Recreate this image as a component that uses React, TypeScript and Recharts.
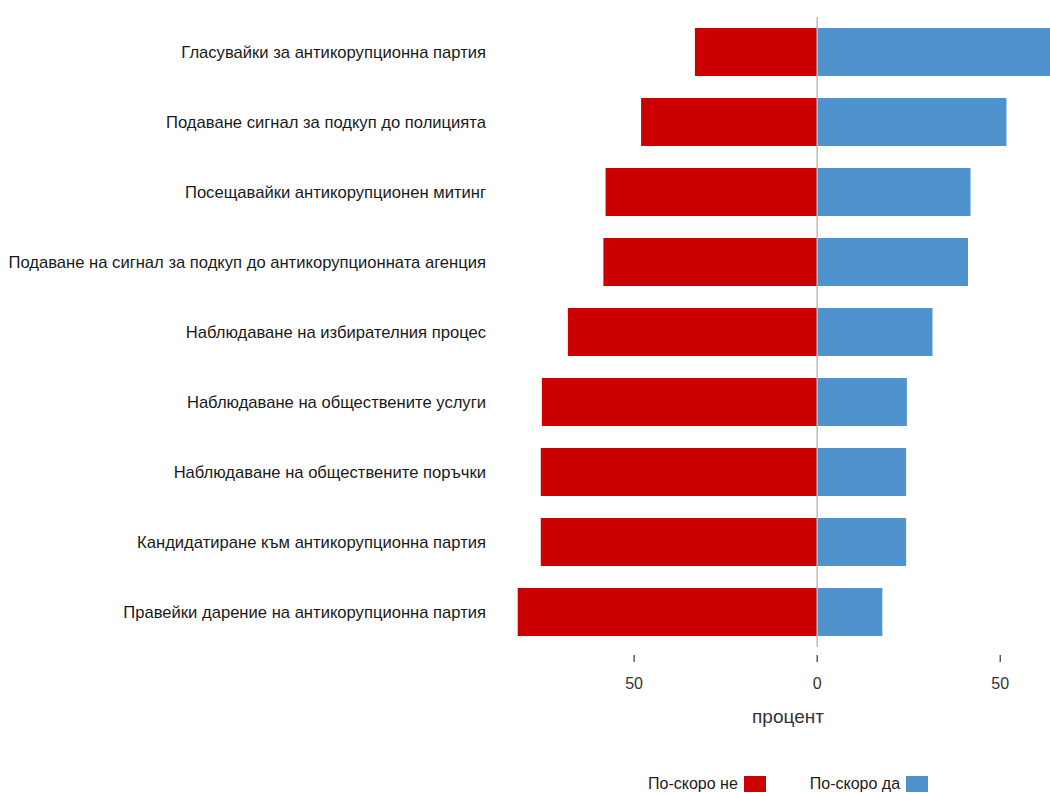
import { BarChart, Bar, XAxis, YAxis, ReferenceLine, Label } from "recharts";

const categories = [
  "Гласувайки за антикорупционна партия",
  "Подаване сигнал за подкуп до полицията",
  "Посещавайки антикорупционен митинг",
  "Подаване на сигнал за подкуп до антикорупционната агенция",
  "Наблюдаване на избирателния процес",
  "Наблюдаване на обществените услуги",
  "Наблюдаване на обществените поръчки",
  "Кандидатиране към антикорупционна партия",
  "Правейки дарение на антикорупционна партия",
];

const noValues = [33.4, 48.1, 57.8, 58.4, 68.1, 75.2, 75.5, 75.5, 81.8];
const yesValues = [66.6, 51.7, 41.9, 41.2, 31.5, 24.5, 24.3, 24.3, 17.8];

const seriesNames = ["По-скоро не", "По-скоро да"];
const COLORS = ["#CC0000", "#4E93CE"];
const xTicks = [-50, 0, 50];

const data = categories.map((name, i) => ({
  name,
  no: -noValues[i],
  yes: yesValues[i],
}));

const FONT = "'Liberation Sans', Arial, sans-serif";

const XTick = (props: any) => {
  const { x, y, payload } = props;
  return (
    <g>
      <line x1={x} x2={x} y1={y + 8} y2={y + 15} stroke="#333" strokeWidth={1.2} />
      <text x={x} y={y + 42} textAnchor="middle" fontSize={16} fill="#333" fontFamily={FONT}>
        {Math.abs(payload.value)}
      </text>
    </g>
  );
};

export default function App() {
  return (
    <div style={{ position: "relative", width: 1050, height: 793, overflow: "hidden", fontFamily: FONT }}>
      <style>{"body{margin:0;overflow:hidden}"}</style>
      <BarChart
        width={1050}
        height={793}
        data={data}
        layout="vertical"
        stackOffset="sign"
        margin={{ top: 17, right: 0, left: 0, bottom: 0 }}
      >
        <XAxis
          type="number"
          domain={[-85, 63.6]}
          allowDataOverflow
          ticks={xTicks}
          axisLine={false}
          tickLine={false}
          tickSize={0}
          tickMargin={0}
          height={146}
          tick={<XTick />}
        >
          <Label
            value="процент"
            position="insideTop"
            offset={63}
            dx={10}
            fontSize={19}
            fill="#333"
            fontFamily={FONT}
          />
        </XAxis>
        <YAxis
          type="category"
          dataKey="name"
          width={506}
          axisLine={false}
          tickLine={false}
          tickSize={0}
          tickMargin={20}
          tick={{ fontSize: 16.6, fill: "#1a1a1a", fontFamily: FONT }}
        />
        <Bar dataKey="no" stackId="s" fill={COLORS[0]} barSize={48} isAnimationActive={false} />
        <Bar dataKey="yes" stackId="s" fill={COLORS[1]} barSize={48} isAnimationActive={false} />
        <ReferenceLine x={0} stroke="#bbbbbb" strokeWidth={1.5} />
      </BarChart>
      <div
        style={{
          position: "absolute",
          top: 776,
          left: 648,
          display: "flex",
          alignItems: "center",
          fontSize: 16,
          color: "#1a1a1a",
        }}
      >
        {seriesNames.map((n, i) => (
          <div key={n} style={{ display: "flex", alignItems: "center", marginRight: 44 }}>
            <span style={{ lineHeight: "16px" }}>{n}</span>
            <span
              style={{
                display: "inline-block",
                width: 22,
                height: 16,
                background: COLORS[i],
                marginLeft: 6,
              }}
            />
          </div>
        ))}
      </div>
    </div>
  );
}
